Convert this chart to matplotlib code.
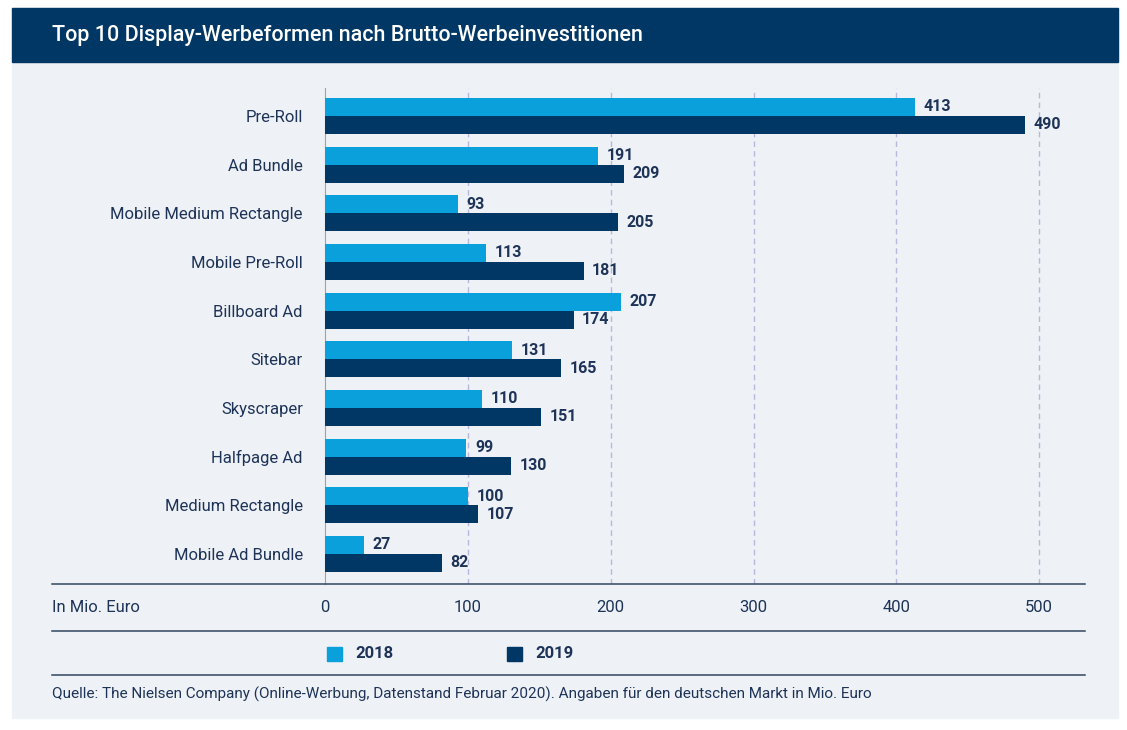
import matplotlib
matplotlib.use("Agg")
import matplotlib.pyplot as plt
import numpy as np

categories = ["Pre-Roll","Ad Bundle","Mobile Medium Rectangle","Mobile Pre-Roll","Billboard Ad",
              "Sitebar","Skyscraper","Halfpage Ad","Medium Rectangle","Mobile Ad Bundle"]
v2018 = [413,191,93,113,207,131,110,99,100,27]
v2019 = [490,209,205,181,174,165,151,130,107,82]
xticks = [0,100,200,300,400,500]

C18 = "#0aa0dc"; C19 = "#003764"; TXT = "#1d3358"; BG = "#eef1f5"
plt.rcParams['font.family'] = ['Roboto', 'DejaVu Sans']
W, H = 1127, 730
fig = plt.figure(figsize=(W/100, H/100), dpi=100)
fig.patch.set_facecolor("white")
def fx(x): return x/W
def fy(y): return 1-y/H
fig.add_artist(plt.Rectangle((fx(12), fy(718)), fx(1106), (718-8)/H, color=BG, zorder=0))
fig.add_artist(plt.Rectangle((fx(12), fy(62)), fx(1106), 54/H, color=C19, zorder=1))
fig.text(fx(52), fy(35), "Top 10 Display-Werbeformen nach Brutto-Werbeinvestitionen",
         color="white", fontsize=15.5, fontweight="medium", va="center")

ax = fig.add_axes([fx(325), fy(584), fx(1085-325), (584-88)/H])
ax.set_facecolor("none")
y = np.arange(len(categories))
h = 0.37
b1 = ax.barh(y - h/2, v2018, height=h, color=C18, zorder=3)
b2 = ax.barh(y + h/2, v2019, height=h, color=C19, zorder=3)
for bars, vals in ((b1, v2018), (b2, v2019)):
    for r, v in zip(bars, vals):
        ax.text(v + 6, r.get_y() + r.get_height()/2, str(v), va="center", ha="left",
                fontsize=11.5, fontweight="bold", color=TXT)
ax.set_xlim(0, 532)
ax.set_ylim(len(categories) - 1 + 0.62, -0.575)
ax.set_yticks(y)
ax.set_yticklabels(categories, fontsize=12, color=TXT)
ax.tick_params(axis="y", length=0, pad=16)
ax.set_xticks(xticks)
ax.set_xticklabels([])
ax.tick_params(axis="x", length=0)
for t in xticks[1:]:
    ax.axvline(t, color="#b7b8dc", ls=(0, (4, 3)), lw=1, zorder=1)
for s in ["top", "right", "bottom"]:
    ax.spines[s].set_visible(False)
ax.spines["left"].set_color("#9aa3ad")
ax.spines["left"].set_linewidth(0.8)

for t in xticks:
    fig.text(fx(325 + t*1.428), fy(607), str(t), ha="center", va="center", fontsize=12, color=TXT)
fig.text(fx(52), fy(607), "In Mio. Euro", ha="left", va="center", fontsize=12, color=TXT)
for yy in (584, 631, 675):
    fig.add_artist(plt.Line2D([fx(52), fx(1085)], [fy(yy), fy(yy)], color="#33475f", lw=1.1))
fig.add_artist(plt.Rectangle((fx(327), fy(661)), fx(15), 14/H, color=C18))
fig.text(fx(355), fy(654), "2018", va="center", fontsize=12, fontweight="bold", color=TXT)
fig.add_artist(plt.Rectangle((fx(507), fy(661)), fx(15), 14/H, color=C19))
fig.text(fx(535), fy(654), "2019", va="center", fontsize=12, fontweight="bold", color=TXT)
fig.text(fx(52), fy(694), "Quelle: The Nielsen Company (Online-Werbung, Datenstand Februar 2020). Angaben für den deutschen Markt in Mio. Euro",
         va="center", fontsize=11, color=TXT)
fig.savefig("out.png", dpi=100)
